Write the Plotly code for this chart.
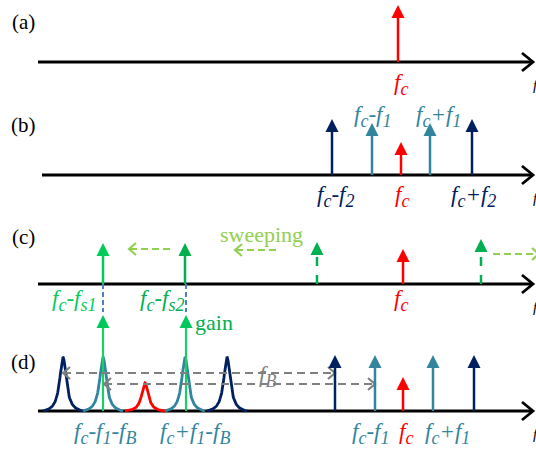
import numpy as np
import plotly.graph_objects as go

W, H = 536, 449
FONT = "Liberation Serif"

NAVY = "#002060"
TEAL = "#31859C"
RED = "#FF0000"
GREEN = "#00B050"
LIME = "#00CC5A"
LIGHT = "#92D050"
GRAY = "#808080"
STEEL = "#4F81BD"

# ---- panel frames: tag, baseline of each frequency axis, axis start ----
panel_tags = ["(a)", "(b)", "(c)", "(d)"]
panel_tag_y = [22, 125, 237, 362]
baselines = [62, 175, 284, 411]
axis_start = [38, 42, 38, 38]
axis_tip = 533

# ---- (a) carrier ----
a_freq = [398]
a_amp = [57]
a_colors = [RED]

# ---- (b) carrier with two modulation sideband pairs ----
b_freq = [332, 372, 401, 430, 472]
b_amp = [56, 52, 33, 52, 56]
b_colors = [NAVY, TEAL, RED, TEAL, NAVY]

# ---- (c) carrier and swept pump lines ----
c_freq = [103, 185, 317, 403, 481]
c_amp = [41, 41, 42, 35, 45]
c_colors = [LIME, GREEN, GREEN, RED, GREEN]
c_dash = ["solid", "solid", "dash", "solid", "dash"]
sweep_from = [170, 276, 493]
sweep_to = [129, 235, 539]
sweep_y = [249, 250, 254]

# ---- (d) Brillouin-shifted copies, gain lines and original tones ----
peak_freq = [63, 103, 145, 185, 227]
peak_amp = [54, 54, 28, 54, 54]
peak_colors = [NAVY, TEAL, RED, TEAL, NAVY]
peak_halfwidth = 4.0
peak_span = 20
d_freq = [335, 375, 403, 433, 474]
d_amp = [56, 56, 34, 56, 56]
d_colors = [NAVY, TEAL, RED, TEAL, NAVY]
gain_freq = [103, 186]
gain_amp = [96, 96]
link_top = 284
link_bottom = 312
fb_from = [63, 104]
fb_to = [335, 375]
fb_y = [373, 384]

fig = go.Figure()


def line(xs, ys, color, width=2.5, dash="solid"):
    fig.add_trace(go.Scatter(x=xs, y=ys, mode="lines", hoverinfo="skip",
                             line=dict(color=color, width=width, dash=dash)))


def chevron(x, y, direction, color, length, half, width=2.5):
    # open ">" / "<" head with its point at (x, y)
    line([x - direction * length, x, x - direction * length],
         [y - half, y, y + half], color, width)


def spikes(freqs, amps, base, colors, dashes=None, head=13):
    for i, (f, a, c) in enumerate(zip(freqs, amps, colors)):
        d = dashes[i] if dashes else "solid"
        top = base - a
        line([f, f], [base, top + 6], c, 2.5, d)
        fig.add_trace(go.Scatter(x=[f], y=[top], mode="markers", hoverinfo="skip",
                                 marker=dict(symbol="arrow-up", size=head, color=c,
                                             line=dict(width=0))))


# frequency axes with open arrowheads
for y0, x0 in zip(baselines, axis_start):
    line([x0, axis_tip], [y0, y0], "black", 2.8)
    chevron(axis_tip, y0, 1, "black", 11, 9, 2.8)

# (a)
spikes(a_freq, a_amp, baselines[0], a_colors)

# (b)
spikes(b_freq, b_amp, baselines[1], b_colors)

# (c)
spikes(c_freq, c_amp, baselines[2], c_colors, c_dash)
for xf, xt, y in zip(sweep_from, sweep_to, sweep_y):
    line([xf, xt], [y, y], LIGHT, 2.2, "7px,4px")
    chevron(xt, y, 1 if xt > xf else -1, LIGHT, 7, 6, 2.2)

# (d) Lorentzian lines, truncated at the axis
for f, a, c in zip(peak_freq, peak_amp, peak_colors):
    dx = np.linspace(-peak_span, peak_span, 161)
    L = peak_halfwidth ** 2 / (dx ** 2 + peak_halfwidth ** 2)
    Le = peak_halfwidth ** 2 / (peak_span ** 2 + peak_halfwidth ** 2)
    prof = (L - Le) / (1 - Le)
    line(f + dx, baselines[3] - a * prof, c, 2.8)

# dashed links from the pump lines in (c) down to the gain lines
for f in gain_freq:
    line([f, f], [link_top, link_bottom], STEEL, 2, "5px,3px")

for f, a in zip(gain_freq, gain_amp):
    top = baselines[3] - a
    line([f, f], [baselines[3], top + 6], "#19D066", 2.2)
    fig.add_trace(go.Scatter(x=[f], y=[top], mode="markers", hoverinfo="skip",
                             marker=dict(symbol="arrow-up", size=13, color="#00C85A",
                                         line=dict(width=0))))

# Brillouin shift markers
for xf, xt, y in zip(fb_from, fb_to, fb_y):
    line([xf, xt], [y, y], GRAY, 2.2, "8px,5px")
    chevron(xf, y, -1, GRAY, 7, 6, 2.2)
    chevron(xt, y, 1, GRAY, 7, 6, 2.2)

spikes(d_freq, d_amp, baselines[3], d_colors)

# ---- text ----
SUB = 18


def sym(*parts):
    # parts alternate: main letter(s) and "_"-prefixed subscripts
    out = ""
    for p in parts:
        if p.startswith("_"):
            out += f"<sub><span style='font-size:{SUB}px'>{p[1:]}</span></sub>"
        else:
            out += p
    return "<i>" + out + "</i>"


def label(x, y, text, color, size=23, xanchor="center"):
    fig.add_annotation(x=x, y=y, text=text, showarrow=False, xanchor=xanchor,
                       yanchor="middle", font=dict(family=FONT, size=size, color=color))


FC = sym("f", "_c")
for tag, ty in zip(panel_tags, panel_tag_y):
    label(23, ty, tag, "black", 21)
for y0 in baselines:
    label(531, y0 + 23, "<i>f</i>", "black", 15, "left")

label(401, 84, FC, RED)

label(372, 116, sym("f", "_c", "-f", "_1"), TEAL)
label(438, 116, sym("f", "_c", "+f", "_1"), TEAL)
label(335, 196, sym("f", "_c", "-f", "_2"), NAVY)
label(402, 196, FC, RED)
label(473, 196, sym("f", "_c", "+f", "_2"), NAVY)

label(261, 234, "sweeping", LIGHT, 22)
label(74, 300, sym("f", "_c", "-f", "_s1"), LIME)
label(162, 300, sym("f", "_c", "-f", "_s2"), GREEN)
label(401, 300, FC, RED)

label(193, 322, "gain", GREEN, 22, "left")
label(267, 376, sym("f", "_B"), GRAY)
label(105, 433, sym("f", "_c", "-f", "_1", "-f", "_B"), TEAL)
label(195, 433, sym("f", "_c", "+f", "_1", "-f", "_B"), TEAL)
label(370, 433, sym("f", "_c", "-f", "_1"), TEAL)
label(406, 433, FC, RED)
label(447, 433, sym("f", "_c", "+f", "_1"), TEAL)

fig.update_layout(
    width=W, height=H,
    margin=dict(l=0, r=0, t=0, b=0),
    paper_bgcolor="white", plot_bgcolor="white",
    showlegend=False,
    font=dict(family=FONT),
    xaxis=dict(range=[0, W], visible=False, fixedrange=True),
    yaxis=dict(range=[H, 0], visible=False, fixedrange=True),
)

fig.write_html("out.html", config={"displayModeBar": False})
